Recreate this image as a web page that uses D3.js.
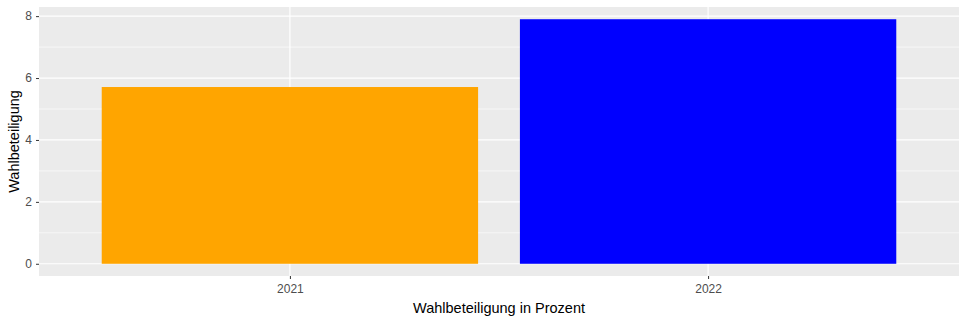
<!DOCTYPE html>
<html>
<head>
<meta charset="utf-8">
<script src="https://cdn.jsdelivr.net/npm/d3@7"></script>
<style>
  body { margin: 0; background: #fff; }
  svg { display: block; font-family: "Liberation Sans", Arial, sans-serif; }
</style>
</head>
<body>
<svg id="chart" width="967" height="321"></svg>
<script>
const years = ["2021", "2022"];
const turnout = [5.71, 7.9];
const barColors = ["#FFA500", "#0000FF"];
const yTicks = [0, 2, 4, 6, 8];

const svg = d3.select("#chart");
const width = 967;
const height = 321;
const margin = { top: 7, right: 8, bottom: 45, left: 39 };
const pw = width - margin.left - margin.right;
const ph = height - margin.top - margin.bottom;

// ggplot style expansion: 5% on continuous, 0.6 units on discrete
const yMax = d3.max(turnout);
const y = d3.scaleLinear()
  .domain([-0.05 * yMax, yMax * 1.05])
  .range([ph, 0]);

const x = d3.scaleLinear()
  .domain([0.4, years.length + 0.6])
  .range([0, pw]);
const unit = x(1) - x(0);

const g = svg.append("g").attr("transform", `translate(${margin.left},${margin.top})`);

// panel background
g.append("rect")
  .attr("width", pw)
  .attr("height", ph)
  .attr("fill", "#EBEBEB");

// minor grid lines
const minors = d3.range(1, 8, 2);
g.append("g")
  .selectAll("line")
  .data(minors)
  .join("line")
  .attr("x1", 0)
  .attr("x2", pw)
  .attr("y1", (d) => y(d))
  .attr("y2", (d) => y(d))
  .attr("stroke", "#fff")
  .attr("stroke-width", 0.6);

// major grid lines
g.append("g")
  .selectAll("line")
  .data(yTicks)
  .join("line")
  .attr("x1", 0)
  .attr("x2", pw)
  .attr("y1", (d) => y(d))
  .attr("y2", (d) => y(d))
  .attr("stroke", "#fff")
  .attr("stroke-width", 1.2);

g.append("g")
  .selectAll("line")
  .data(years)
  .join("line")
  .attr("x1", (d, i) => x(i + 1))
  .attr("x2", (d, i) => x(i + 1))
  .attr("y1", 0)
  .attr("y2", ph)
  .attr("stroke", "#fff")
  .attr("stroke-width", 1.2);

// bars
g.append("g")
  .selectAll("rect")
  .data(turnout)
  .join("rect")
  .attr("x", (d, i) => x(i + 1) - 0.45 * unit)
  .attr("width", 0.9 * unit)
  .attr("y", (d) => y(d))
  .attr("height", (d) => y(0) - y(d))
  .attr("fill", (d, i) => barColors[i]);

// y axis
const yAxis = g.append("g")
  .call(d3.axisLeft(y).tickValues(yTicks).tickSize(3).tickPadding(4));
yAxis.select(".domain").remove();
yAxis.selectAll("line").attr("stroke", "#333").attr("stroke-width", 1);
yAxis.selectAll("text")
  .attr("fill", "#4D4D4D")
  .style("font-size", "12px")
  .style("font-family", "Liberation Sans, Arial, sans-serif");

// x axis
const xAxis = g.append("g")
  .attr("transform", `translate(0,${ph})`)
  .call(d3.axisBottom(x).tickValues([1, 2]).tickFormat((d) => years[d - 1]).tickSize(3).tickPadding(5));
xAxis.select(".domain").remove();
xAxis.selectAll("line").attr("stroke", "#333").attr("stroke-width", 1);
xAxis.selectAll("text")
  .attr("fill", "#4D4D4D")
  .style("font-size", "12px")
  .style("font-family", "Liberation Sans, Arial, sans-serif");

// axis titles
svg.append("text")
  .attr("x", margin.left + pw / 2)
  .attr("y", 313)
  .attr("text-anchor", "middle")
  .attr("fill", "#000")
  .style("font-size", "14.5px")
  .text("Wahlbeteiligung in Prozent");

svg.append("text")
  .attr("transform", `translate(19,${margin.top + ph / 2}) rotate(-90)`)
  .attr("text-anchor", "middle")
  .attr("fill", "#000")
  .style("font-size", "14.5px")
  .text("Wahlbeteiligung");
</script>
</body>
</html>
